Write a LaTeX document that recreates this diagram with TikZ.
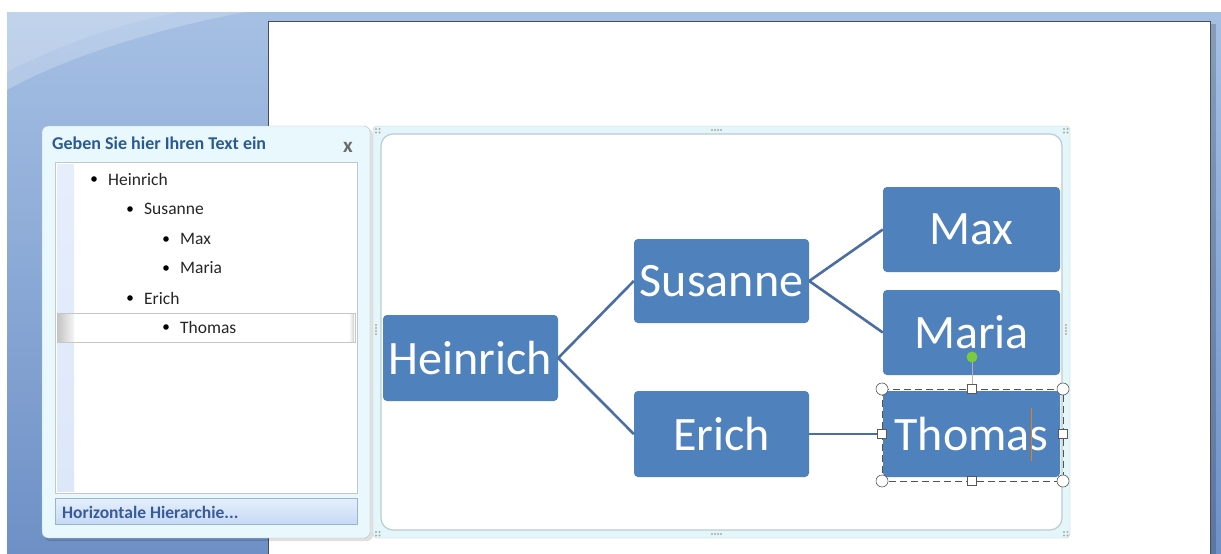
\documentclass[tikz,border=0pt]{standalone}
\usepackage{fontspec}
\setmainfont{Carlito}
\usetikzlibrary{positioning}

\definecolor{bgtop}{HTML}{A6C0E4}
\definecolor{bgbot}{HTML}{6E90C6}
\definecolor{panefill}{HTML}{E8F8FC}
\definecolor{paneline}{HTML}{A9BEC6}
\definecolor{titleblue}{HTML}{2B5A93}
\definecolor{stripe}{HTML}{DCE7FA}
\definecolor{btntop}{HTML}{E6EFFC}
\definecolor{btnbot}{HTML}{C6DAF5}
\definecolor{btnline}{HTML}{9AB4D6}
\definecolor{btntext}{HTML}{3A5B9A}
\definecolor{framefill}{HTML}{E4F6F9}
\definecolor{frameline}{HTML}{B9CCD2}
\definecolor{nodefill}{HTML}{4F81BD}
\definecolor{linkcol}{HTML}{4A6DA3}
\definecolor{rotgreen}{HTML}{7BCB3C}

\tikzset{
  box/.style={rectangle, rounded corners=4pt, fill=nodefill, text=white,
    inner sep=0pt, font=\fontsize{48}{52}\selectfont},
  link/.style={draw=linkcol, line width=2.6pt},
  listtext/.style={anchor=west, inner sep=0pt, text=black!85,
    font=\fontsize{17.5}{19}\selectfont},
  grip/.style={fill=gray!65},
  handle/.style={draw=gray!70!black, fill=white, line width=0.6pt}
}

\begin{document}
\begin{tikzpicture}[x=1pt,y=-1pt]
  \useasboundingbox (0,0) rectangle (1221,554);
  % window background
  \fill[white] (0,0) rectangle (1221,554);
  \shade[top color=bgtop, bottom color=bgbot] (7,12) rectangle (1221,554);
  \fill[white, opacity=0.22] (7,12) -- (245,12) .. controls (150,30) and (60,60) .. (7,90) -- cycle;
  \fill[white, opacity=0.12] (7,12) -- (180,12) .. controls (110,25) and (50,50) .. (7,72) -- cycle;

  % page
  \fill[black, opacity=0.18] (1210,24) rectangle (1216,554);
  \fill[white] (268,21) rectangle (1210,554);
  \draw[gray!60!black, line width=0.8pt] (268,554) -- (268,21) -- (1210,21) -- (1210,554);

  % text pane
  \fill[black, opacity=0.12, rounded corners=6pt] (44,129) rectangle (373,541);
  \draw[fill=panefill, draw=paneline, rounded corners=6pt] (42,126) rectangle (370,538);
  \node[anchor=west, inner sep=0pt, text=titleblue, font=\bfseries\fontsize{18}{20}\selectfont]
    (title) at (52,143) {Geben Sie hier Ihren Text ein};
  \node[text=gray!85!black, font=\bfseries\fontsize{21}{21}\selectfont] (close) at (348,147) {x};
  \draw[fill=white, draw=gray!45] (55,162) rectangle (357,493);
  \shade[top color=stripe!70, bottom color=stripe] (57,164) rectangle (74,491);
  \draw[fill=white, draw=gray!45] (57,313) rectangle (355,342);
  \shade[left color=gray!45, right color=gray!8] (58,314) rectangle (74,341);
  \shade[left color=white, right color=gray!35] (349,314) rectangle (354,341);
  \foreach \name/\lvl/\y in {Heinrich/0/179, Susanne/1/209, Max/2/239, Maria/2/268, Erich/1/298, Thomas/2/327} {
    \fill[black] (94+36*\lvl,\y) circle (2.8pt);
    \node[listtext] (item-\name) at (108+36*\lvl,\y) {\name};
  }
  \shade[top color=btntop, bottom color=btnbot] (55,498) rectangle (357,524);
  \draw[btnline] (55,498) rectangle (357,524);
  \node[anchor=west, inner sep=0pt, text=btntext, font=\bfseries\fontsize{17.5}{19}\selectfont]
    (button) at (62,512) {Horizontale Hierarchie...};

  % smartart frame
  \draw[fill=framefill, draw=frameline, rounded corners=4pt] (373,126) rectangle (1070,538);
  \draw[fill=white, draw=frameline, line width=1.2pt, rounded corners=12pt] (381,134) rectangle (1062,530);
  \foreach \x/\y in {376/129, 1064/129, 376/532, 1064/532} {
    \foreach \dx/\dy in {0/0, 3.5/0, 0/3.5, 3.5/3.5}
      \fill[grip] (\x+\dx,\y+\dy) circle (1.2pt);
  }
  \foreach \dx in {0,3,6,9} {
    \fill[grip] (712+\dx,130) circle (1.1pt);
    \fill[grip] (712+\dx,534) circle (1.1pt);
    \fill[grip] (376,325+\dx) circle (1.1pt);
    \fill[grip] (1066,325+\dx) circle (1.1pt);
  }

  % hierarchy
  \node[box, minimum width=175pt, minimum height=86pt] (heinrich) at (470.5,358) {Heinrich};
  \node[box, minimum width=175pt, minimum height=84pt] (susanne) at (721.5,281) {Susanne};
  \node[box, minimum width=175pt, minimum height=86pt] (erich) at (721.5,434) {Erich};
  \node[box, minimum width=177pt, minimum height=85pt] (max) at (971.5,229.5) {Max};
  \node[box, minimum width=177pt, minimum height=85pt] (maria) at (971.5,332.5) {Maria};
  \node[box, minimum width=177pt, minimum height=86pt] (thomas) at (971.5,434) {Thomas};
  \draw[link] (heinrich.east) -- (susanne.west);
  \draw[link] (heinrich.east) -- (erich.west);
  \draw[link] (susanne.east) -- (max.west);
  \draw[link] (susanne.east) -- (maria.west);
  \draw[link] (erich.east) -- (thomas.west);

  % selection of Thomas
  \draw[gray!65!black, dash pattern=on 7pt off 4pt, line width=0.9pt] (882,389) rectangle (1063,481);
  \draw[gray!60, line width=0.9pt] (972,362) -- (972,385);
  \fill[rotgreen] (972,357) circle (5.5pt);
  \foreach \x/\y in {882/389, 1063/389, 882/481, 1063/481}
    \draw[handle] (\x,\y) circle (6pt);
  \foreach \x/\y in {972/389, 972/481, 882/434, 1063/434}
    \draw[handle] (\x-4.5,\y-4.5) rectangle (\x+4.5,\y+4.5);
  \draw[orange!60!brown, line width=1pt] (1031,408) -- (1031,461);
\end{tikzpicture}
\end{document}
